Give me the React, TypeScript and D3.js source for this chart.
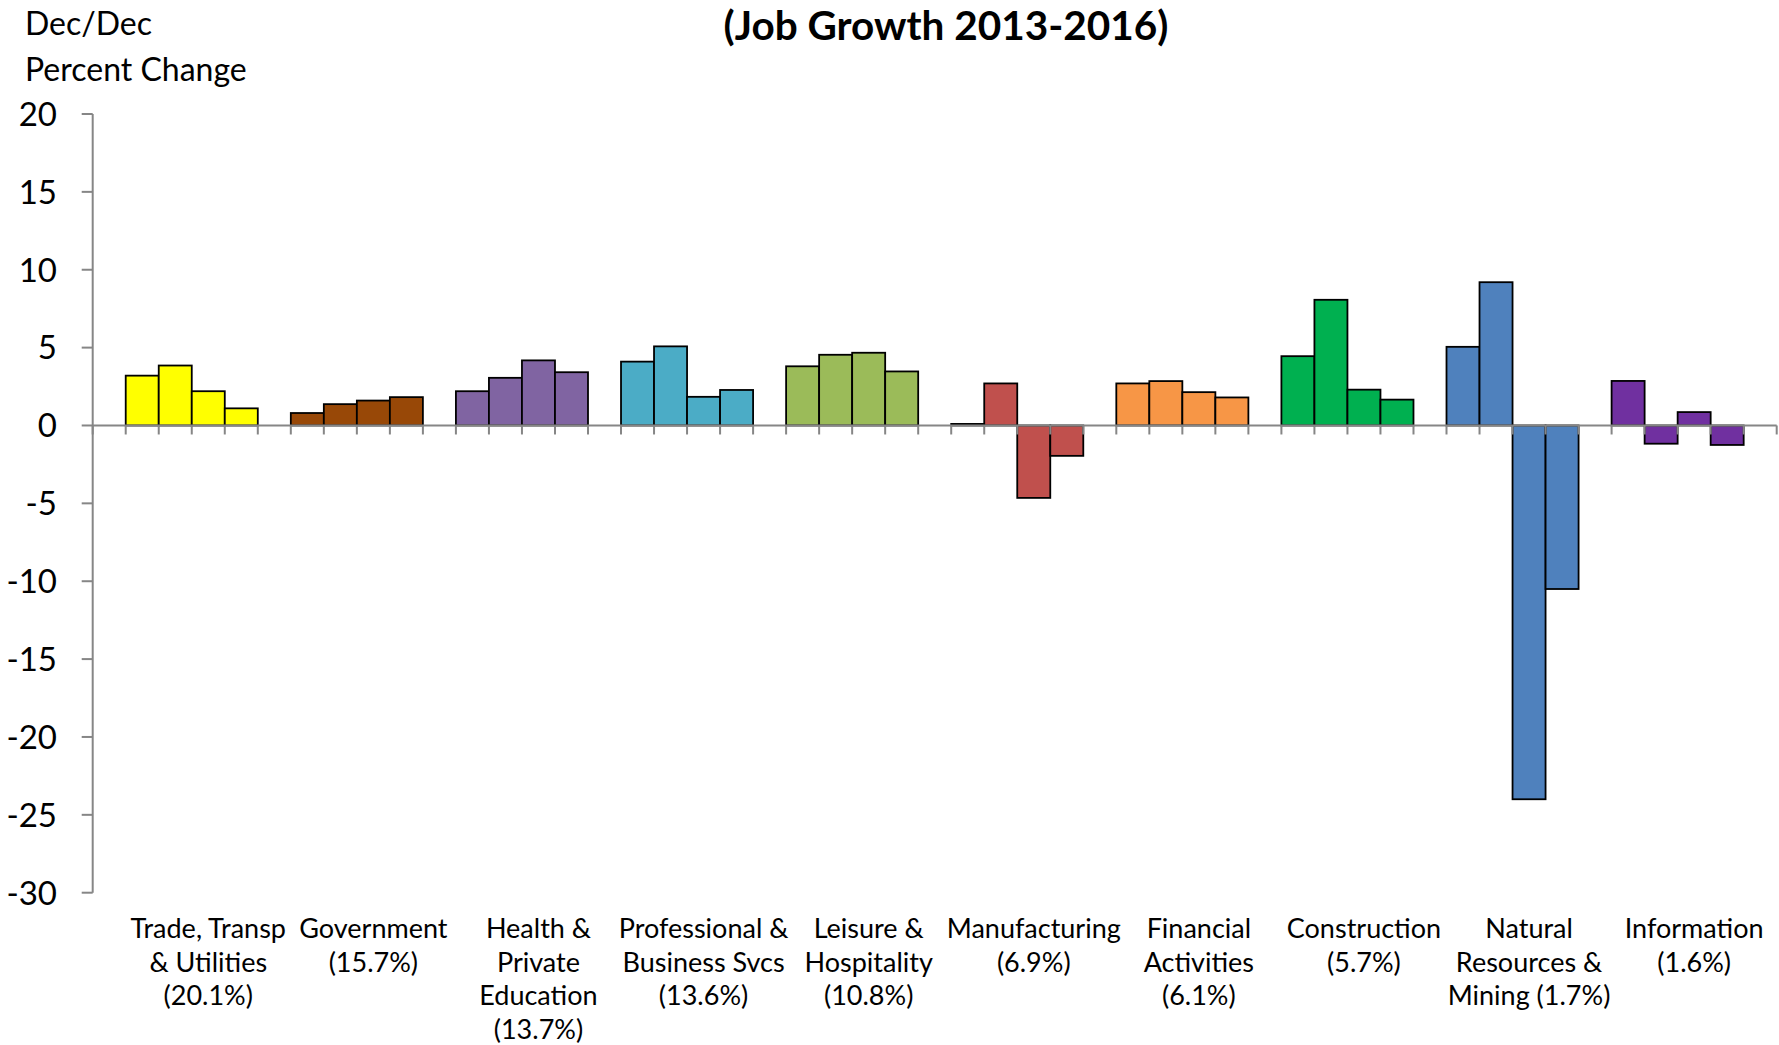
import React from "react";
import * as d3 from "d3";

const categories: string[][] = [
  ["Trade, Transp", "& Utilities", "(20.1%)"],
  ["Government", "(15.7%)"],
  ["Health &", "Private", "Education", "(13.7%)"],
  ["Professional &", "Business Svcs", "(13.6%)"],
  ["Leisure &", "Hospitality", "(10.8%)"],
  ["Manufacturing", "(6.9%)"],
  ["Financial", "Activities", "(6.1%)"],
  ["Construction", "(5.7%)"],
  ["Natural", "Resources &", "Mining (1.7%)"],
  ["Information", "(1.6%)"],
];

const years = ["2013", "2014", "2015", "2016"];

const tradeValues = [3.2, 3.85, 2.2, 1.1];
const governmentValues = [0.8, 1.37, 1.6, 1.82];
const healthValues = [2.2, 3.06, 4.18, 3.42];
const professionalValues = [4.1, 5.08, 1.84, 2.28];
const leisureValues = [3.8, 4.54, 4.67, 3.47];
const manufacturingValues = [0.1, 2.7, -4.65, -1.95];
const financialValues = [2.7, 2.85, 2.14, 1.8];
const constructionValues = [4.45, 8.07, 2.3, 1.66];
const naturalResourcesValues = [5.05, 9.2, -24.0, -10.5];
const informationValues = [2.86, -1.17, 0.86, -1.25];

const categoryColors = [
  "#FFFF00",
  "#984807",
  "#8064A2",
  "#4BACC6",
  "#9BBB59",
  "#C0504D",
  "#F79646",
  "#00B050",
  "#4F81BD",
  "#7030A0",
];

const yTicks = [20, 15, 10, 5, 0, -5, -10, -15, -20, -25, -30];

const seriesByCategory = [
  tradeValues,
  governmentValues,
  healthValues,
  professionalValues,
  leisureValues,
  manufacturingValues,
  financialValues,
  constructionValues,
  naturalResourcesValues,
  informationValues,
];

const W = 1779;
const H = 1045;
const left = 92.7;
const right = 1776.7;
const top = 114;
const bottom = 892.7;
const FONT = "Lato, 'Open Sans', sans-serif";
const AXIS = "#868686";

export default function App() {
  const slotsPerCat = years.length + 1;
  const nSlots = categories.length * slotsPerCat + 1;
  const slotIdx = d3.range(nSlots);
  const x = d3.scaleBand<number>().domain(slotIdx).range([left, right]).padding(0);
  const y = d3.scaleLinear().domain([-30, 20]).range([bottom, top]);
  const step = x.step();

  const bars = seriesByCategory.flatMap((vals, c) =>
    vals.map((v, j) => ({ c, j, v, slot: 1 + c * slotsPerCat + j }))
  );

  const y0 = y(0);

  return (
    <svg
      width={W}
      height={H}
      style={{ position: "absolute", left: 0, top: 0, background: "#fff" }}
      fontFamily={FONT}
    >
      <rect x={0} y={0} width={W} height={H} fill="#fff" />
      <text x={946} y={40} textAnchor="middle" fontSize={40.5} fontWeight="bold" fill="#000">
        (Job Growth 2013-2016)
      </text>
      <text x={25} y={35} fontSize={32} fill="#000">Dec/Dec</text>
      <text x={25} y={81} fontSize={32} fill="#000">Percent Change</text>

      {bars.map((b, i) => {
        const x0 = x(b.slot)!;
        const yv = y(b.v);
        return (
          <rect
            key={i}
            x={x0}
            y={Math.min(yv, y0)}
            width={step}
            height={Math.abs(yv - y0)}
            fill={categoryColors[b.c]}
            stroke="#000"
            strokeWidth={1.8}
          />
        );
      })}

      {/* y axis */}
      <line x1={left} x2={left} y1={top} y2={bottom} stroke={AXIS} strokeWidth={2} />
      {yTicks.map((t) => (
        <g key={t}>
          <line x1={left - 11} x2={left} y1={y(t)} y2={y(t)} stroke={AXIS} strokeWidth={2} />
          <text
            x={57}
            y={y(t)}
            dy="0.36em"
            textAnchor="end"
            fontSize={33}
            fill="#000"
          >
            {t}
          </text>
        </g>
      ))}

      {/* x axis at zero */}
      <line x1={left} x2={right} y1={y0} y2={y0} stroke={AXIS} strokeWidth={2} />
      {d3.range(nSlots + 1).map((k) => {
        const xx = left + k * step;
        return (
          <line key={k} x1={xx} x2={xx} y1={y0} y2={y0 + 9} stroke={AXIS} strokeWidth={2} />
        );
      })}

      {categories.map((lines, c) => {
        const cx = x(1 + c * slotsPerCat)! + (slotsPerCat * step) / 2;
        return (
          <text key={c} textAnchor="middle" fontSize={27} fill="#000">
            {lines.map((ln, k) => (
              <tspan key={k} x={cx} y={938 + k * 33.6}>
                {ln}
              </tspan>
            ))}
          </text>
        );
      })}
    </svg>
  );
}
